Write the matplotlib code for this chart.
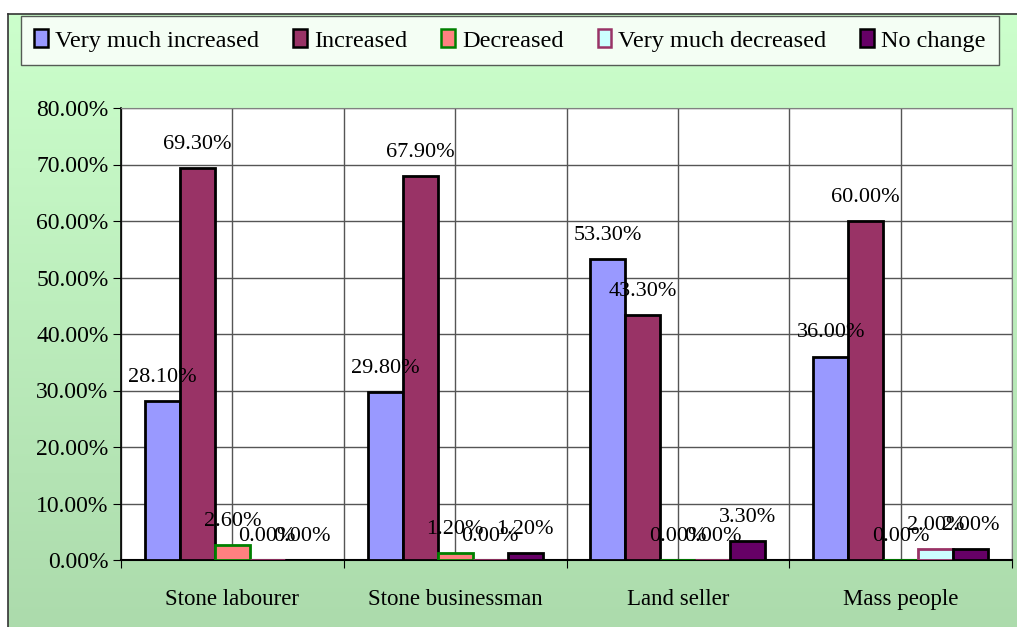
import numpy as np
import matplotlib
matplotlib.use("Agg")
import matplotlib.pyplot as plt
from matplotlib.patches import Patch
from matplotlib.colors import LinearSegmentedColormap

plt.rcParams['font.family'] = ['Liberation Serif', 'DejaVu Serif']

categories = ['Stone labourer', 'Stone businessman', 'Land seller', 'Mass people']
series = ['Very much increased', 'Increased', 'Decreased', 'Very much decreased', 'No change']
very_much_increased = [28.1, 29.8, 53.3, 36.0]
increased = [69.3, 67.9, 43.3, 60.0]
decreased = [2.6, 1.2, 0.0, 0.0]
very_much_decreased = [0.0, 0.0, 0.0, 2.0]
no_change = [0.0, 1.2, 3.3, 2.0]
values = [very_much_increased, increased, decreased, very_much_decreased, no_change]
yticks = [0, 10, 20, 30, 40, 50, 60, 70, 80]

faces = ['#9999ff', '#993366', '#ff8080', '#ccffff', '#660066']
edges = ['black', 'black', '#008000', '#993366', 'black']

W, H = 1017, 627
fig = plt.figure(figsize=(W / 100, H / 100), dpi=100)
fig.patch.set_facecolor('white')

# gradient background of chart area
bg = fig.add_axes([8 / W, 0, 1 - 8 / W, 1 - 14 / H], zorder=-10)
cmap = LinearSegmentedColormap.from_list('g', ['#ccffcc', '#acdbac'])
grad = np.linspace(0, 1, 256).reshape(-1, 1)
bg.imshow(grad, aspect='auto', cmap=cmap, extent=[0, 1, 0, 1], origin='upper')
bg.set_xlim(0, 1)
bg.set_ylim(0, 1)
for s in ['right', 'bottom']:
    bg.spines[s].set_visible(False)
for s in ['top', 'left']:
    bg.spines[s].set_color('#333333')
    bg.spines[s].set_linewidth(1.2)
bg.set_xticks([])
bg.set_yticks([])

ax = fig.add_axes([121 / W, 1 - 560 / H, (1012 - 121) / W, (560 - 108) / H])
ax.set_facecolor('white')

n = len(series)
bw = 35 / 223
x = np.arange(len(categories))
for i in range(n):
    pos = x + (i - (n - 1) / 2) * bw
    ax.bar(pos, values[i], width=bw, color=faces[i], edgecolor=edges[i], linewidth=2, zorder=3)
    for px, v in zip(pos, values[i]):
        ax.annotate('%.2f%%' % v, (px, v), xytext=(0, 17), textcoords='offset points',
                    ha='center', va='center', fontsize=16, color='black', zorder=5)

ax.set_xlim(-0.5, len(categories) - 0.5)
ax.set_ylim(0, 80)
ax.set_yticks(yticks)
ax.set_yticklabels(['%.2f%%' % t for t in yticks], fontsize=17)
ax.yaxis.grid(True, color='#555555', linewidth=1)
for v in np.arange(-0.5, len(categories), 0.5):
    ax.axvline(v, color='#555555', linewidth=1, zorder=1)
ax.set_xticks(np.arange(-0.5, len(categories), 1.0))
ax.set_xticklabels([])
ax.set_xticks(x, minor=True)
ax.set_xticklabels(categories, minor=True, fontsize=16.5)
ax.tick_params(axis='x', which='major', length=6, direction='out', color='black')
ax.tick_params(axis='x', which='minor', length=0, pad=21)
ax.tick_params(axis='y', length=6, direction='out', color='black', pad=3)
for s in ['top', 'right']:
    ax.spines[s].set_color('#808080')
ax.spines['bottom'].set_color('black')
ax.spines['bottom'].set_linewidth(1.5)
ax.spines['left'].set_color('black')
ax.spines['left'].set_linewidth(1.2)
ax.set_axisbelow(True)

handles = [Patch(facecolor=faces[i], edgecolor=edges[i], linewidth=1.8) for i in range(n)]
leg = fig.legend(handles, series, loc='center', ncol=5,
                 bbox_to_anchor=(21 / W, 1 - 62 / H, (999 - 21) / W, (62 - 19) / H),
                 mode='expand', fontsize=17.5, frameon=True, fancybox=False,
                 handlelength=0.55, handleheight=0.75, handletextpad=0.3, columnspacing=1.0,
                 borderaxespad=0, borderpad=0.55)
leg.get_frame().set_edgecolor('#333333')
leg.get_frame().set_linewidth(1)

fig.savefig('out.png', dpi=100)
